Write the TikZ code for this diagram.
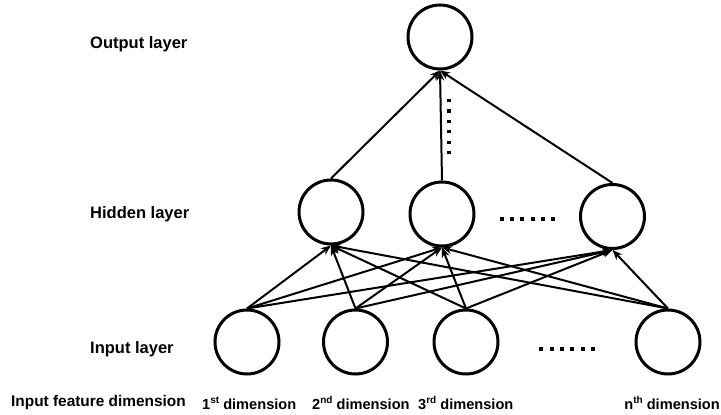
\documentclass[tikz,border=0pt]{standalone}
\usepackage{fontspec}
\setmainfont{Liberation Sans}
\usetikzlibrary{arrows.meta}
\newcommand\mysupr[1]{\raisebox{0.42em}{\fontsize{10}{12}\selectfont #1}}
\begin{document}
\begin{tikzpicture}[x=1pt,y=-1pt,
  neuron/.style={circle,draw,line width=3pt,minimum size=64pt,inner sep=0pt},
  conn/.style={line width=2pt,-{Stealth[length=10pt,width=8pt]}},
  lbl/.style={font=\bfseries\fontsize{16.5}{19}\selectfont,anchor=west,inner sep=0pt},
  dimlbl/.style={font=\bfseries\fontsize{14.6}{18}\selectfont,inner sep=0pt},
  dotsq/.style={fill=black,minimum size=4pt,inner sep=0pt}]
\useasboundingbox (0,0) rectangle (721,415);
% nodes
\node[neuron] (o) at (440,37) {};
\node[neuron] (h1) at (331,212) {};
\node[neuron] (h2) at (442,214) {};
\node[neuron] (h3) at (612.5,216.5) {};
\node[neuron] (i1) at (247,342) {};
\node[neuron] (i2) at (355.5,342) {};
\node[neuron] (i3) at (466,342) {};
\node[neuron] (i4) at (668,342) {};
% connections input -> hidden
\foreach \i in {i1,i2,i3,i4}{
  \foreach \h in {h1,h2,h3}{
    \draw[conn] (\i.north) -- (\h.south);
  }
}
% hidden -> output
\foreach \h in {h1,h2,h3}{
  \draw[conn] (\h.north) -- (o.south);
}
% dots
\foreach \k in {0,...,5}{
  \node[dotsq] (hd\k) at (502+10.2*\k,219) {};
  \node[dotsq] (id\k) at (541.3+10.3*\k,349) {};
  \node[fill=black,minimum size=3.2pt,inner sep=0pt] (vd\k) at (449,100.5+10.4*\k) {};
}
% labels
\node[lbl] (lo) at (90,44) {Output layer};
\node[lbl] (lh) at (90,214) {Hidden layer};
\node[lbl] (li) at (90,349) {Input layer};
\node[dimlbl,font=\bfseries\fontsize{15.4}{18}\selectfont,anchor=west] (lf) at (11,403) {Input feature dimension};
\node[dimlbl,anchor=west] (d1) at (202,403) {1\mysupr{st} dimension};
\node[dimlbl,anchor=west] (d2) at (312,403) {2\mysupr{nd} dimension};
\node[dimlbl,anchor=west] (d3) at (418,403) {3\mysupr{rd} dimension};
\node[dimlbl,anchor=east] (dn) at (720,403) {n\mysupr{th} dimension};
\end{tikzpicture}
\end{document}
